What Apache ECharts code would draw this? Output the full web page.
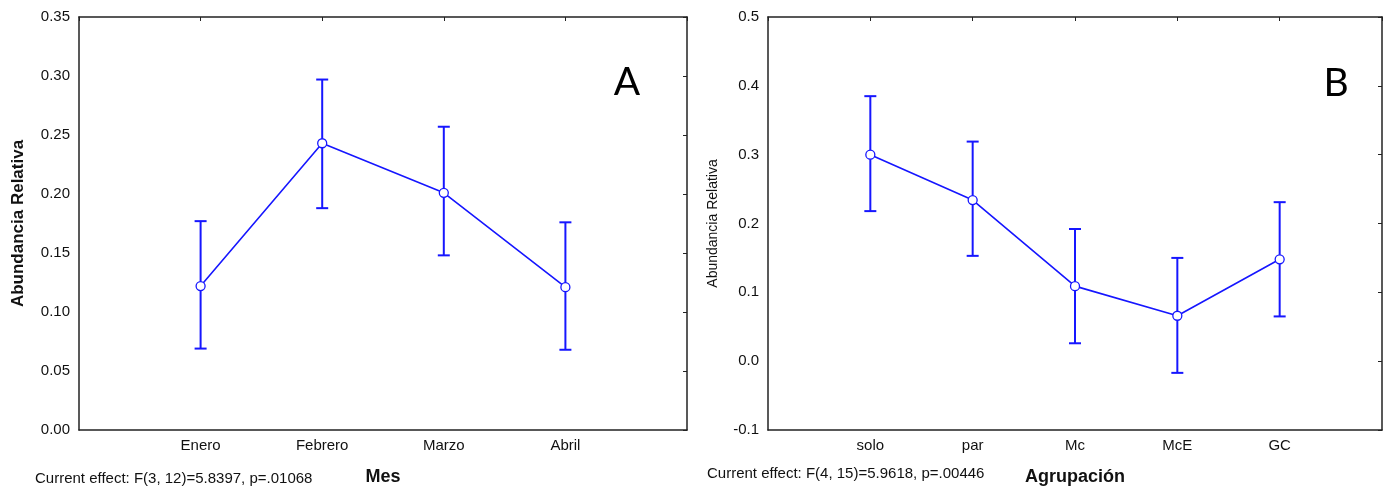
<!DOCTYPE html>
<html>
<head>
<meta charset="utf-8">
<script src="https://cdn.jsdelivr.net/npm/echarts@6/dist/echarts.min.js"></script>
<style>
html,body{margin:0;padding:0;background:#fff;}
#chart{width:1390px;height:489px;}
</style>
</head>
<body>
<div id="chart"></div>
<script>
// Panel A data
const monthCats = ['Enero', 'Febrero', 'Marzo', 'Abril'];
const monthMean = [0.122, 0.243, 0.201, 0.121];
const monthLow  = [0.069, 0.188, 0.148, 0.068];
const monthHigh = [0.177, 0.297, 0.257, 0.176];

// Panel B data
const groupCats = ['solo', 'par', 'Mc', 'McE', 'GC'];
const groupMean = [0.300, 0.234, 0.109, 0.066, 0.148];
const groupLow  = [0.218, 0.153, 0.026, -0.017, 0.065];
const groupHigh = [0.385, 0.319, 0.192, 0.150, 0.231];

const footA = 'Current effect: F(3, 12)=5.8397, p=.01068';
const footB = 'Current effect: F(4, 15)=5.9618, p=.00446';

const BLUE = '#1616ff';
const FRAME = '#222';
const TXT = '#111';
const FONT = '"Liberation Sans", Arial, sans-serif';

function errRender(params, api) {
  const x = api.value(0);
  const lo = api.coord([x, api.value(1)]);
  const hi = api.coord([x, api.value(2)]);
  const w = 6;
  const st = { stroke: BLUE, lineWidth: 2 };
  return {
    type: 'group',
    children: [
      { type: 'line', shape: { x1: lo[0], y1: lo[1], x2: hi[0], y2: hi[1] }, style: st },
      { type: 'line', shape: { x1: lo[0] - w, y1: lo[1], x2: lo[0] + w, y2: lo[1] }, style: st },
      { type: 'line', shape: { x1: hi[0] - w, y1: hi[1], x2: hi[0] + w, y2: hi[1] }, style: st }
    ]
  };
}

function xAxes(gridIndex, cats, name) {
  const n = cats.length + 1;
  return [
    {
      type: 'value', gridIndex, position: 'bottom', min: 0, max: n, interval: 1,
      axisLine: { show: true, onZero: false, lineStyle: { color: FRAME, width: 1.5 } },
      axisTick: { show: false },
      splitLine: { show: false },
      axisLabel: {
        color: TXT, fontSize: 15, fontFamily: FONT, margin: 8,
        formatter: v => cats[v - 1] || ''
      },
      name, nameLocation: 'middle', nameGap: 38,
      nameTextStyle: { color: TXT, fontSize: 18, fontWeight: 'bold', fontFamily: FONT }
    },
    {
      type: 'value', gridIndex, position: 'top', min: 0, max: n, interval: 1,
      axisLine: { show: true, onZero: false, lineStyle: { color: FRAME, width: 1.5 } },
      axisTick: { show: true, inside: true, length: 4, lineStyle: { color: FRAME, width: 1 } },
      splitLine: { show: false },
      axisLabel: { show: false }
    }
  ];
}

function yAxes(gridIndex, min, max, interval, decimals, nameStyle, nameGap) {
  return [
    {
      type: 'value', gridIndex, position: 'left', min, max, interval,
      axisLine: { show: true, onZero: false, lineStyle: { color: FRAME, width: 1.5 } },
      axisTick: { show: false },
      splitLine: { show: false },
      axisLabel: {
        color: TXT, fontSize: 15, fontFamily: FONT, margin: 9,
        formatter: v => v.toFixed(decimals)
      },
      name: 'Abundancia Relativa', nameLocation: 'middle', nameGap,
      nameTextStyle: nameStyle
    },
    {
      type: 'value', gridIndex, position: 'right', min, max, interval,
      axisLine: { show: true, onZero: false, lineStyle: { color: FRAME, width: 1.5 } },
      axisTick: { show: true, inside: true, length: 4, lineStyle: { color: FRAME, width: 1 } },
      splitLine: { show: false },
      axisLabel: { show: false }
    }
  ];
}

const chart = echarts.init(document.getElementById('chart'), null, { renderer: 'canvas' });

const option = {
  backgroundColor: '#fff',
  animation: false,
  grid: [
    { left: 79, top: 17, width: 608, height: 413, containLabel: false, outerBoundsMode: 'none' },
    { left: 768, top: 17, width: 614, height: 413, containLabel: false, outerBoundsMode: 'none' }
  ],
  xAxis: [
    ...xAxes(0, monthCats, 'Mes'),
    ...xAxes(1, groupCats, 'Agrupación')
  ],
  yAxis: [
    ...yAxes(0, 0, 0.35, 0.05, 2,
      { color: TXT, fontSize: 17, fontWeight: 'bold', fontFamily: FONT }, 52),
    ...yAxes(1, -0.1, 0.5, 0.1, 1,
      { color: TXT, fontSize: 14, fontFamily: FONT }, 48)
  ],
  series: [
    {
      type: 'custom', xAxisIndex: 0, yAxisIndex: 0, renderItem: errRender,
      data: monthCats.map((c, i) => [i + 1, monthLow[i], monthHigh[i]]), z: 2
    },
    {
      type: 'line', xAxisIndex: 0, yAxisIndex: 0,
      data: monthCats.map((c, i) => [i + 1, monthMean[i]]),
      lineStyle: { color: BLUE, width: 1.6 },
      symbol: 'circle', symbolSize: 9,
      itemStyle: { color: '#fff', borderColor: BLUE, borderWidth: 1.3 }, z: 3
    },
    {
      type: 'custom', xAxisIndex: 2, yAxisIndex: 2, renderItem: errRender,
      data: groupCats.map((c, i) => [i + 1, groupLow[i], groupHigh[i]]), z: 2
    },
    {
      type: 'line', xAxisIndex: 2, yAxisIndex: 2,
      data: groupCats.map((c, i) => [i + 1, groupMean[i]]),
      lineStyle: { color: BLUE, width: 1.6 },
      symbol: 'circle', symbolSize: 9,
      itemStyle: { color: '#fff', borderColor: BLUE, borderWidth: 1.3 }, z: 3
    }
  ],
  graphic: [
    { type: 'text', x: 35, y: 479, style: { text: footA, fill: TXT, font: '15px ' + FONT, textVerticalAlign: 'middle' } },
    { type: 'text', x: 707, y: 474, style: { text: footB, fill: TXT, font: '15px ' + FONT, textVerticalAlign: 'middle' } },
    { type: 'text', x: 627, y: 82, style: { text: 'A', fill: '#000', font: '39px Lato, "Noto Sans", sans-serif', textAlign: 'center', textVerticalAlign: 'middle' } },
    { type: 'text', x: 1336, y: 83, style: { text: 'B', fill: '#000', font: '39px Lato, "Noto Sans", sans-serif', textAlign: 'center', textVerticalAlign: 'middle' } }
  ]
};
chart.setOption(option);
</script>
</body>
</html>
